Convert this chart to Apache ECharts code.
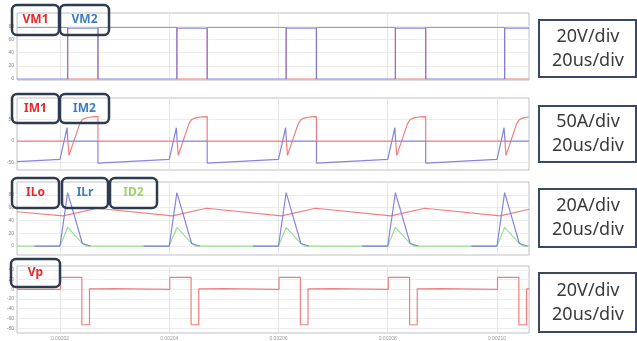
<!DOCTYPE html>
<html><head><meta charset="utf-8">
<script src="https://cdn.jsdelivr.net/npm/echarts@6/dist/echarts.min.js"></script>
<style>html,body{margin:0;padding:0;background:#fff}#c{width:637px;height:341px}</style>
</head><body><div id="c"></div>
<script>
// time axis (us)
const xMin = 12.13, xMax = 105.86;
const xTicks = [20, 40, 60, 80, 100];
const xTickLabels = ['0.00202', '0.00204', '0.00206', '0.00208', '0.00210'];

// panel 1: switch voltages (V)
const yTicks1 = [0, 20, 40, 60, 80];
const VM1 = [[12.13,78],[21.4,78],[21.4,0],[26.95,0],[26.95,78],[41.4,78],[41.4,0],[46.95,0],[46.95,78],
  [61.4,78],[61.4,0],[66.95,0],[66.95,78],[81.4,78],[81.4,0],[86.95,0],[86.95,78],[101.4,78],[101.4,0],[105.86,0]];
const VM2 = [[12.13,0],[21.4,0],[21.4,77],[26.95,77],[26.95,0],[41.4,0],[41.4,77],[46.95,77],[46.95,0],
  [61.4,0],[61.4,77],[66.95,77],[66.95,0],[81.4,0],[81.4,77],[86.95,77],[86.95,0],[101.4,0],[101.4,77],[105.86,77]];

// panel 2: switch currents (A)
const yTicks2 = [-50, 0, 50];
const IM1 = [[12.13,0],[21.45,0],[21.65,-33],[23.6,40],[24.1,50],[24.8,54],[25.8,56],[26.95,57],[26.95,0],
  [41.45,0],[41.65,-33],[43.6,40],[44.1,50],[44.8,54],[45.8,56],[46.95,57],[46.95,0],
  [61.45,0],[61.65,-33],[63.6,40],[64.1,50],[64.8,54],[65.8,56],[66.95,57],[66.95,0],
  [81.45,0],[81.65,-33],[83.6,40],[84.1,50],[84.8,54],[85.8,56],[86.95,57],[86.95,0],
  [101.45,0],[101.65,-33],[103.6,40],[104.1,50],[104.8,54],[105.8,56],[105.86,56]];
const IM2 = [[12.13,-47.6],[20,-42.5],[21.3,31],[21.45,0],[26.95,0],[26.95,-51],
  [40,-42.5],[41.3,31],[41.45,0],[46.95,0],[46.95,-51],
  [60,-42.5],[61.3,31],[61.45,0],[66.95,0],[66.95,-51],
  [80,-42.5],[81.3,31],[81.45,0],[86.95,0],[86.95,-51],
  [100,-42.5],[101.3,31],[101.45,0],[105.86,0]];

// panel 3: inductor / resonant / diode currents (A)
const yTicks3 = [0, 20, 40, 60, 80];
const ILo = [[12.13,53.5],[20.55,47],[26.8,59],[40.55,47],[46.8,59],[60.55,47],[66.8,59],
  [80.55,47],[86.8,59],[100.55,47],[105.86,57.5]];
const ILr = [[15.3,0],[20,0],[21.4,83.5],[24.1,4],[25.6,0],null,
  [35.3,0],[40,0],[41.4,83.5],[44.1,4],[45.6,0],null,
  [55.3,0],[60,0],[61.4,83.5],[64.1,4],[65.6,0],null,
  [75.3,0],[80,0],[81.4,83.5],[84.1,4],[85.6,0],null,
  [95.3,0],[100,0],[101.4,83.5],[104.1,4],[105.6,0]];
const ID2 = [[12.13,0],[20,0],[21.4,29],[24,5],[24.8,0],[40,0],[41.4,29],[44,5],[44.8,0],
  [60,0],[61.4,29],[64,5],[64.8,0],[80,0],[81.4,29],[84,5],[84.8,0],
  [100,0],[101.4,29],[104,5],[104.8,0],[105.86,0]];

// panel 4: primary voltage (V)
const yTicks4 = [-80, -60, -40, -20, 0, 20, 40];
const Vp = [[12.13,0],[20.1,0],[20.1,24.5],[24,24.5],[24,-73],[25.4,-73],[25.4,1],[30,1.5],[30.3,0],
  [40.1,0],[40.1,24.5],[44,24.5],[44,-73],[45.4,-73],[45.4,1],[50,1.5],[50.3,0],
  [60.1,0],[60.1,24.5],[64,24.5],[64,-73],[65.4,-73],[65.4,1],[70,1.5],[70.3,0],
  [80.1,0],[80.1,24.5],[84,24.5],[84,-73],[85.4,-73],[85.4,1],[90,1.5],[90.3,0],
  [100.1,0],[100.1,24.5],[104,24.5],[104,-73],[105.4,-73],[105.4,1],[105.86,1]];

const RED = '#ee7070', BLUE = '#7878dd', GREEN = '#8fdc86';
const BOX = '#2c3b4f';

const grids = [
  {left:17, width:512, top:13, height:67},
  {left:17, width:512, top:98, height:72},
  {left:17, width:512, top:182, height:73},
  {left:17, width:512, top:266, height:69}
].map(g => Object.assign(g, {show:true, borderColor:'#c0c0c0', borderWidth:1, backgroundColor:'#fff'}));

function xAxis(i, showLabel) {
  return {type:'value', gridIndex:i, min:xMin, max:xMax,
    axisLine:{show:false},
    axisTick:{show:false, customValues:xTicks},
    axisLabel:{show:showLabel, customValues:xTicks, fontSize:5, color:'#999', margin:3,
      formatter: v => xTickLabels[xTicks.indexOf(v)]},
    splitLine:{show:true, lineStyle:{color:'#e6e6e6', width:1}}};
}
function yAxis(i, min, max, ticks) {
  return {type:'value', gridIndex:i, min:min, max:max,
    axisLine:{show:false},
    axisTick:{show:false, customValues:ticks},
    axisLabel:{show:true, customValues:ticks, fontSize:5, color:'#888', margin:3},
    splitLine:{show:true, lineStyle:{color:'#ececec', width:1}}};
}
function line(name, data, color, i, z) {
  return {name, type:'line', data, xAxisIndex:i, yAxisIndex:i, showSymbol:false, symbol:'none',
    connectNulls:false, z:z||2, animation:false,
    lineStyle:{color, width:1.2, opacity:0.9}};
}

function labelBox(x, y, w, h, text, color) {
  return [
    {type:'rect', shape:{x, y, width:w, height:h, r:5}, style:{fill:'none', stroke:BOX, lineWidth:2.5}, z:100},
    {type:'text', x:x + w/2, y:y + h/2, style:{text, fill:color, font:'bold 12px "Noto Sans", sans-serif',
      align:'center', verticalAlign:'middle'}, z:101}
  ];
}
function scaleBox(y, h, text) {
  return [
    {type:'rect', shape:{x:539, y, width:97, height:h}, style:{fill:'#fff', stroke:'#3a4866', lineWidth:2}, z:100},
    {type:'text', x:588, y:y + h/2, style:{text, fill:'#3a3a3a', font:'18px "Noto Sans", sans-serif',
      lineHeight:24, align:'center', verticalAlign:'middle'}, z:101}
  ];
}

const graphics = [].concat(
  labelBox(12, 5, 47, 30, 'VM1', '#e8262b'),
  labelBox(60, 5, 49, 30, 'VM2', '#3c7dc4'),
  labelBox(12, 94, 47, 29, 'IM1', '#e8262b'),
  labelBox(60, 94, 49, 29, 'IM2', '#3c7dc4'),
  labelBox(12, 178, 47, 30, 'ILo', '#e8262b'),
  labelBox(62, 178, 46, 30, 'ILr', '#3c7dc4'),
  labelBox(110, 178, 47, 30, 'ID2', '#9fd36a'),
  labelBox(11, 259, 49, 28, 'Vp', '#e8262b'),
  scaleBox(20, 57, '20V/div\n20us/div'),
  scaleBox(106, 56, '50A/div\n20us/div'),
  scaleBox(189, 58, '20A/div\n20us/div'),
  scaleBox(273, 59, '20V/div\n20us/div')
);

const chart = echarts.init(document.getElementById('c'), null, {renderer:'canvas'});
chart.setOption({
  animation:false,
  backgroundColor:'#fff',
  grid:grids,
  xAxis:[xAxis(0,false), xAxis(1,false), xAxis(2,false), xAxis(3,true)],
  yAxis:[yAxis(0,-1.5,100,yTicks1), yAxis(1,-67,100,yTicks2), yAxis(2,-14,100,yTicks3), yAxis(3,-90,48,yTicks4)],
  series:[
    line('VM1', VM1, RED, 0, 2),
    line('VM2', VM2, BLUE, 0, 3),
    line('IM2', IM2, BLUE, 1, 2),
    line('IM1', IM1, RED, 1, 3),
    line('ILo', ILo, RED, 2, 2),
    line('ID2', ID2, GREEN, 2, 3),
    line('ILr', ILr, BLUE, 2, 4),
    line('Vp', Vp, RED, 3, 2)
  ],
  graphic:graphics
});
</script></body></html>
